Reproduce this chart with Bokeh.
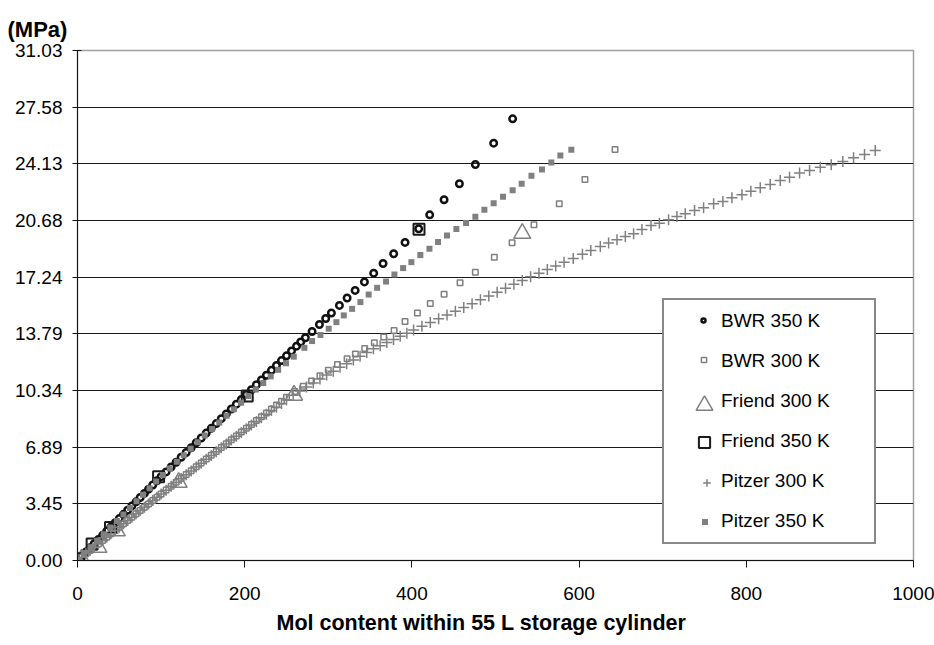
from bokeh.plotting import figure
from bokeh.models import Range1d, FixedTicker, PrintfTickFormatter, Legend, LegendItem, Title
from bokeh.embed import file_html
from bokeh.resources import INLINE

# ---------------- data ----------------
x_title = "Mol content within 55 L storage cylinder"
y_unit = "(MPa)"
xticks = [0, 200, 400, 600, 800, 1000]
yticks = [0.0, 3.4474, 6.8948, 10.3421, 13.7895, 17.2369, 20.6843, 24.1317, 27.5790, 31.0264]
ytick_labels = ["0.00", "3.45", "6.89", "10.34", "13.79", "17.24", "20.68", "24.13", "27.58", "31.03"]
series_names = ["BWR 350 K", "BWR 300 K", "Friend 300 K", "Friend 350 K", "Pitzer 300 K", "Pitzer 350 K"]

bwr350_n = [0, 5, 10, 15, 20, 25, 30, 35, 40, 45, 50, 55, 60, 65, 70, 75, 80, 85, 90, 95, 100,
            106, 112, 118, 124, 130, 136, 142, 148, 154, 160, 166, 172, 178, 184, 190, 196, 202,
            208, 214, 220, 226, 232, 238, 244, 250, 256, 262, 267,
            272.6, 280.6, 289.4, 296.9, 303.7, 313.3, 322.5, 332.1, 343.2, 354.3, 365.5, 378.2,
            391.8, 408.1, 421.3, 438.5, 456.8, 475.9, 497.8, 520.5]
bwr350_p = [0, 0.26, 0.51, 0.77, 1.02, 1.28, 1.53, 1.79, 2.04, 2.30, 2.55, 2.81, 3.06, 3.32, 3.57,
            3.83, 4.08, 4.34, 4.59, 4.85, 5.10,
            5.39, 5.69, 5.98, 6.28, 6.57, 6.86, 7.16, 7.45, 7.75, 8.04, 8.33, 8.63, 8.92, 9.22, 9.51,
            9.80, 10.10, 10.39, 10.69, 10.98, 11.27, 11.57, 11.86, 12.16, 12.45, 12.75, 13.04, 13.29,
            13.55, 13.93, 14.36, 14.72, 15.06, 15.52, 15.97, 16.43, 16.95, 17.48, 18.07, 18.66,
            19.35, 20.18, 21.03, 21.95, 22.92, 24.09, 25.39, 26.87]

bwr300_n = [0, 5, 10, 15, 20, 25, 30, 35, 40, 45, 50, 55, 60, 65, 70, 75, 80, 85, 90, 95, 100,
            106, 112, 118, 124, 130, 136, 142, 148, 154, 160, 166, 172, 178, 184, 190, 196, 202,
            208, 214, 220, 226, 232, 238, 244, 250,
            260, 270, 280, 290, 300, 311,
            322.5, 332.4, 343.6, 355.1, 366.3, 378.7, 391.8, 406.6, 422.0, 438.5, 457.6, 475.9,
            498.6, 519.8, 546.0, 576.3, 607.0, 643.0]
bwr300_p = [0, 0.20, 0.41, 0.61, 0.81, 1.01, 1.22, 1.42, 1.62, 1.82, 2.03, 2.23, 2.43, 2.63, 2.84,
            3.04, 3.24, 3.44, 3.65, 3.85, 4.05,
            4.29, 4.52, 4.76, 4.99, 5.23, 5.46, 5.70, 5.93, 6.17, 6.40, 6.63, 6.87, 7.10, 7.34, 7.57,
            7.81, 8.04, 8.28, 8.51, 8.75, 8.98, 9.22, 9.46, 9.69, 9.93,
            10.28, 10.60, 10.92, 11.24, 11.57, 11.92,
            12.27, 12.56, 12.89, 13.24, 13.59, 13.99, 14.54, 15.05, 15.64, 16.20, 16.90, 17.54,
            18.45, 19.33, 20.42, 21.70, 23.18, 25.00]

friend300_n = [5, 25, 47, 121, 259, 532]
friend300_p = [0.10, 0.80, 1.80, 4.75, 10.05, 19.90]

friend350_n = [1.5, 17.5, 39.5, 97, 203, 408.5]
friend350_p = [0.10, 1.00, 2.00, 5.10, 10.00, 20.15]

pitzer300_n = [0, 5, 10, 15, 20, 25, 30, 35, 40, 45, 50, 55, 60, 65, 70, 75, 80, 85, 90, 95, 100,
               106, 112, 118, 124, 130, 136, 142, 148, 154, 160, 166, 172, 178, 184, 190, 196, 202,
               208, 214, 220, 226, 232, 238, 244, 250,
               258, 266, 274, 282, 290, 298, 306, 314, 322, 330, 338, 346, 354, 362, 370, 378, 386,
               394, 402,
               412, 422, 432, 442, 452, 462, 472, 482, 492, 502, 512, 522, 532, 542, 552, 562, 572, 582,
               593, 604, 614,
               625.4, 635.3, 645.3, 655.3, 665.2, 675.2, 686.0, 696.0, 707.0, 717.0, 727.0, 738.1,
               748.9, 760.9, 772.0, 782.8, 794.8, 805.5, 816.7, 828.6, 840.6, 851.7, 863.7, 875.7,
               888.5, 901.6, 915.5, 928.3, 941.4, 954.2]
pitzer300_p = [0, 0.20, 0.41, 0.61, 0.81, 1.01, 1.22, 1.42, 1.62, 1.82, 2.03, 2.23, 2.43, 2.63, 2.84,
               3.04, 3.24, 3.44, 3.65, 3.85, 4.05,
               4.28, 4.52, 4.75, 4.99, 5.22, 5.45, 5.69, 5.92, 6.16, 6.39, 6.62, 6.86, 7.09, 7.33,
               7.56, 7.79, 8.02, 8.24, 8.46, 8.68, 8.90, 9.12, 9.33, 9.55, 9.77,
               10.06, 10.31, 10.55, 10.80, 11.04, 11.29, 11.52, 11.75, 11.97, 12.20, 12.43, 12.65,
               12.88, 13.07, 13.26, 13.45, 13.64, 13.83, 14.03,
               14.25, 14.48, 14.70, 14.93, 15.16, 15.39, 15.62, 15.86, 16.09, 16.32, 16.56, 16.80,
               17.04, 17.26, 17.48, 17.70, 17.92, 18.14,
               18.38, 18.63, 18.86,
               19.10, 19.31, 19.51, 19.71, 19.88, 20.14, 20.38, 20.52, 20.73, 20.93, 21.09, 21.29,
               21.46, 21.70, 21.84, 22.07, 22.25, 22.47, 22.67, 22.88, 23.12, 23.32, 23.57, 23.73,
               23.93, 24.07, 24.28, 24.50, 24.70, 24.95]

pitzer350_n = [0, 7.8, 15.7, 23.5, 31.4, 39.2, 47.1, 54.9, 62.7, 70.6, 78.4, 86.3, 94.1, 102.1,
               110.4, 118.8, 127.1, 135.4, 143.8, 152.2, 160.9, 169.6, 178.3, 187.0, 195.7, 204.4,
               213.3, 222.2, 231.1, 240.0, 249.4, 258.7,
               271.4, 280.6, 290.6, 300.5, 309.7, 318.5, 328.5, 338.4, 348.3, 358.4, 369.1, 379.1,
               389.5, 399.4, 410.1, 421.0, 431.3, 442.0, 453.2, 464.8, 475.9, 486.7, 497.8, 509.0,
               520.5, 531.3, 543.0, 555.6, 566.8, 577.6, 590.7]
pitzer350_p = [0, 0.4, 0.8, 1.2, 1.6, 2.0, 2.4, 2.8, 3.2, 3.6, 4.0, 4.4, 4.8, 5.2, 5.6, 6.0, 6.4,
               6.8, 7.2, 7.6, 8.0, 8.4, 8.8, 9.2, 9.6, 10.0, 10.4, 10.8, 11.2, 11.6, 12.0, 12.4,
               12.94, 13.35, 13.72, 14.10, 14.50, 14.91, 15.31, 15.72, 16.18, 16.59, 16.97, 17.40,
               17.79, 18.15, 18.58, 18.96, 19.37, 19.77, 20.16, 20.53, 20.91, 21.34, 21.74, 22.13,
               22.53, 22.92, 23.41, 23.79, 24.21, 24.64, 24.99]

# ---------------- figure ----------------
FONT = "Liberation Sans"
GRAY = "#808080"
DARK = "#141414"

FRAME_L, FRAME_B = 77, 560   # page px of the frame's left and bottom edge

p = figure(width=934, height=645, output_backend="svg", toolbar_location=None,
           x_range=Range1d(0, 1000), y_range=Range1d(0, yticks[-1]),
           min_border_left=77, min_border_right=21, min_border_top=50, min_border_bottom=85,
           background_fill_color="white", border_fill_color="white")

p.title.text = y_unit
p.title.text_font = FONT
p.title.text_font_size = "22px"
p.title.text_font_style = "bold"
p.title.text_color = "black"
p.title.align = "left"
p.title.offset = -70
p.title.standoff = 18

p.outline_line_color = "#a0a0a0"
p.outline_line_width = 1.5

# axes
xa = p.xaxis[0]
xa.ticker = FixedTicker(ticks=xticks)
xa.major_label_text_font = FONT
xa.major_label_text_font_size = "19px"
xa.major_label_text_color = "black"
xa.major_label_standoff = 19
xa.major_tick_out = 7
xa.major_tick_in = 0
xa.minor_tick_line_color = None
xa.axis_line_color = DARK
xa.major_tick_line_color = DARK

# x-axis title placed below the axis, starting a little left of centre as in the original
xt = Title(text=x_title, align="left", offset=276 - FRAME_L, standoff=12,
           vertical_align="bottom", text_font=FONT, text_font_size="21.5px",
           text_font_style="bold", text_color="black")
p.add_layout(xt, "below")

ya = p.yaxis[0]
ya.ticker = FixedTicker(ticks=yticks)
ya.formatter = PrintfTickFormatter(format="%.2f")
ya.major_label_overrides = dict(zip(yticks, ytick_labels))
ya.major_label_text_font = FONT
ya.major_label_text_font_size = "19px"
ya.major_label_text_color = "black"
ya.major_label_standoff = 10
ya.major_tick_out = 5
ya.major_tick_in = 4
ya.minor_tick_line_color = None
ya.axis_line_color = DARK
ya.major_tick_line_color = DARK

p.xgrid.visible = False
p.ygrid.ticker = FixedTicker(ticks=yticks[1:-1])
p.ygrid.grid_line_color = "#1a1a1a"
p.ygrid.grid_line_width = 1

# series (drawn in legend order, later on top)
r1 = p.scatter(bwr350_n, bwr350_p, marker="circle", size=6.5, fill_color=None,
               line_color="#111111", line_width=2.5)
r2 = p.scatter(bwr300_n, bwr300_p, marker="square", size=5.5, fill_color=None,
               line_color=GRAY, line_width=1.5)
r3 = p.scatter(friend300_n, friend300_p, marker="triangle", size=17, fill_color=None,
               line_color=GRAY, line_width=1.5)
r4 = p.scatter(friend350_n, friend350_p, marker="square", size=11, fill_color=None,
               line_color="#1a1a1a", line_width=2)
r5 = p.scatter(pitzer300_n, pitzer300_p, marker="cross", size=11,
               line_color=GRAY, line_width=1.5)
r6 = p.scatter(pitzer350_n, pitzer350_p, marker="square", size=6, fill_color=GRAY,
               line_color=None)

# legend box with labels (glyphs drawn by the small legends below)
LEG_DY = 2  # small downward shift of the legend placement
dummy = p.scatter([], [], marker="circle", size=1, fill_alpha=0, line_alpha=0)
main_leg = Legend(items=[LegendItem(label=s, renderers=[dummy]) for s in series_names],
                  location=(662 - FRAME_L, FRAME_B - 542 - LEG_DY), padding=1, spacing=0, margin=0,
                  glyph_width=52, glyph_height=40, label_standoff=4, label_width=152,
                  label_height=40, label_text_font=FONT, label_text_font_size="19px",
                  label_text_color="black", border_line_color="#111111", border_line_width=2,
                  background_fill_color="white", background_fill_alpha=1.0)
p.add_layout(main_leg)

# individual legend symbols (legend marker size = 0.4 * glyph box)
sym_boxes = [10, 13, 42, 28, 19, 15]
sym_cy = [317.5, 357.5, 402.5, 440, 480.5, 519.5]
sym_cx = [703, 703, 704, 704, 706, 704]
for r, g, cx, cy in zip([r1, r2, r3, r4, r5, r6], sym_boxes, sym_cx, sym_cy):
    lg = Legend(items=[LegendItem(label=" ", renderers=[r])],
                location=(cx - g / 2 - FRAME_L, FRAME_B - cy - g / 2 - LEG_DY),
                padding=0, spacing=0, margin=0, glyph_width=g, glyph_height=g,
                label_standoff=0, label_width=0, label_height=0,
                label_text_font_size="1px", border_line_color=None,
                background_fill_alpha=0)
    p.add_layout(lg)

open("out.html", "w").write(file_html(p, INLINE))
